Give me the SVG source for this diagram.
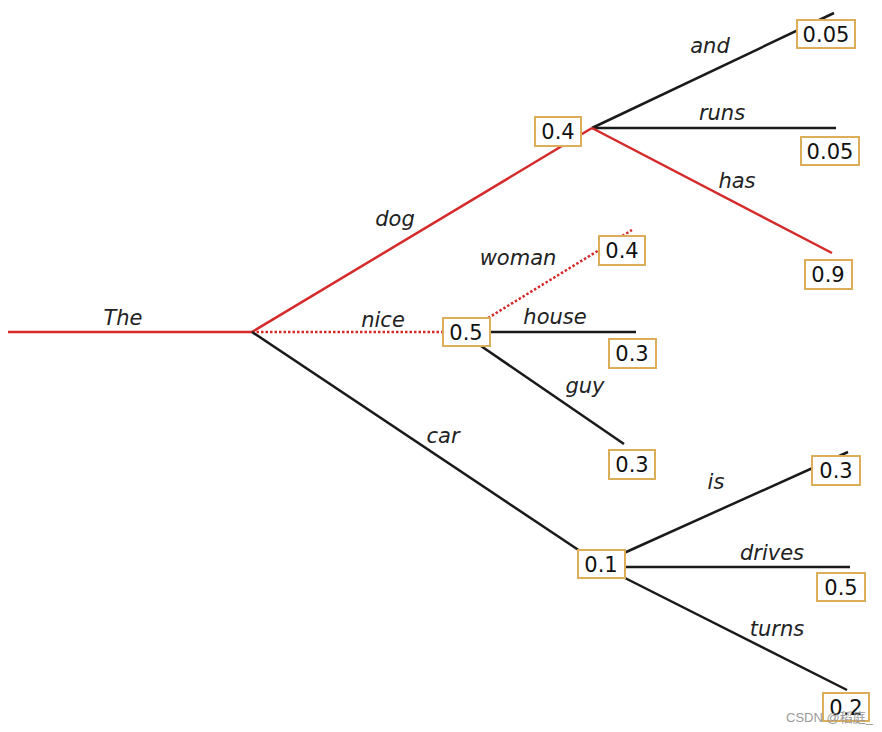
<svg xmlns="http://www.w3.org/2000/svg" width="882" height="732" viewBox="0 0 882 732">
<style>
.e{fill:none;stroke-width:2.5;stroke-linecap:butt}
.r{stroke:#d42a2a}
.k{stroke:#1a1a1a}
.d{stroke-dasharray:2.5 2}
.lb{font-family:"DejaVu Sans",sans-serif;font-style:italic;font-size:21px;fill:#222;text-anchor:middle}
.bx rect{fill:#fff;stroke:#dcae5a;stroke-width:2}
.bx text{font-family:"DejaVu Sans",sans-serif;font-size:21px;fill:#111;text-anchor:middle}
.wm{font-family:"Liberation Sans","Noto Sans CJK SC",sans-serif;font-size:13px;fill:#999}
</style>
<rect width="882" height="732" fill="#fff"/>
<g id="connectors">
<line class="e r" x1="8" y1="332" x2="252" y2="332"/>
<line class="e r" x1="252" y1="332" x2="592" y2="128"/>
<line class="e r d" x1="252" y1="332" x2="443" y2="332"/>
<line class="e k" x1="252" y1="332" x2="580" y2="551"/>
<line class="e k" x1="592" y1="128" x2="834" y2="13"/>
<line class="e k" x1="592" y1="128" x2="836" y2="128"/>
<line class="e r" x1="592" y1="128" x2="832" y2="253"/>
<line class="e r d" x1="488" y1="318" x2="632" y2="230"/>
<line class="e k" x1="490" y1="332" x2="636" y2="332"/>
<line class="e k" x1="481" y1="346" x2="624" y2="444"/>
<line class="e k" x1="624" y1="553" x2="848" y2="452"/>
<line class="e k" x1="625" y1="567" x2="850" y2="567"/>
<line class="e k" x1="625" y1="578" x2="847" y2="690"/>
</g>
<g id="labels">
<text class="lb" x="123" y="325">The</text>
<text class="lb" x="395" y="226">dog</text>
<text class="lb" x="383" y="327">nice</text>
<text class="lb" x="443" y="443">car</text>
<text class="lb" x="710" y="53">and</text>
<text class="lb" x="722" y="120">runs</text>
<text class="lb" x="737" y="188">has</text>
<text class="lb" x="518" y="265">woman</text>
<text class="lb" x="555" y="324">house</text>
<text class="lb" x="585" y="393">guy</text>
<text class="lb" x="716" y="489">is</text>
<text class="lb" x="772" y="560">drives</text>
<text class="lb" x="777" y="636">turns</text>
</g>
<g id="n_dog" class="bx"><rect x="535" y="117" width="46" height="29"/><text x="558" y="139">0.4</text></g>
<g id="n_nice" class="bx"><rect x="443" y="318" width="47" height="28"/><text x="466" y="340">0.5</text></g>
<g id="n_car" class="bx"><rect x="578" y="550" width="47" height="28"/><text x="601" y="572">0.1</text></g>
<g id="n_and" class="bx"><rect x="797" y="20" width="58" height="28"/><text x="826" y="42">0.05</text></g>
<g id="n_runs" class="bx"><rect x="801" y="137" width="58" height="28"/><text x="830" y="159">0.05</text></g>
<g id="n_has" class="bx"><rect x="805" y="260" width="47" height="29"/><text x="828" y="282">0.9</text></g>
<g id="n_woman" class="bx"><rect x="599" y="236" width="46" height="29"/><text x="622" y="258">0.4</text></g>
<g id="n_house" class="bx"><rect x="609" y="339" width="47" height="29"/><text x="632" y="361">0.3</text></g>
<g id="n_guy" class="bx"><rect x="609" y="450" width="46" height="29"/><text x="632" y="472">0.3</text></g>
<g id="n_is" class="bx"><rect x="812" y="456" width="48" height="29"/><text x="836" y="478">0.3</text></g>
<g id="n_drives" class="bx"><rect x="817" y="573" width="48" height="28"/><text x="841" y="595">0.5</text></g>
<g id="n_turns" class="bx"><rect x="823" y="693" width="46" height="28"/><text x="846" y="715">0.2</text></g>
<text class="wm" x="786" y="722">CSDN @稻庭_</text>
</svg>
